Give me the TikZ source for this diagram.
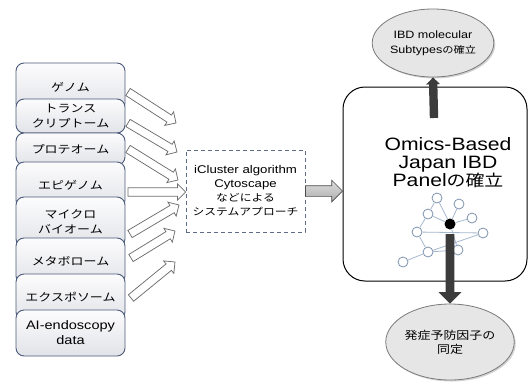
\documentclass[tikz,border=0pt]{standalone}
\usepackage{fontspec}
\setmainfont[FakeStretch=1.18, Scale=1.12]{Liberation Sans}
\newfontfamily\jp[FakeStretch=1.18]{Noto Sans CJK JP}
\usetikzlibrary{shapes.arrows,shapes.geometric,shadows,calc}
\definecolor{boxedge}{HTML}{4A5A78}
\definecolor{boxtop}{HTML}{FCFCFD}
\definecolor{boxbot}{HTML}{E2E3E8}
\definecolor{arrowedge}{HTML}{6E6E6E}
\definecolor{dashedge}{HTML}{5C6C84}
\definecolor{netedge}{HTML}{A6B8CF}
\definecolor{netnode}{HTML}{7F93AE}
\definecolor{darkarrow}{HTML}{3C3C3C}
\definecolor{ellfill}{HTML}{E6E6E6}
\definecolor{elledge}{HTML}{7A7A7A}
\tikzset{
  omicbox/.style={draw=boxedge, line width=0.9pt, rounded corners=8pt,
    top color=boxtop, bottom color=boxbot, minimum width=109pt, inner sep=0pt,
    align=center, font={\fontsize{11}{15}\selectfont\jp}},
  hollowarrow/.style={single arrow, draw=arrowedge, fill=white, line width=0.75pt,
    inner sep=3.8pt, minimum width=15.5pt, single arrow head extend=3.9pt, outer sep=0pt},
  grayarrow/.style={single arrow, draw=gray!60!black, top color=gray!25, bottom color=gray!65,
    line width=0.7pt, inner sep=5pt, minimum width=21pt, single arrow head extend=5.5pt, outer sep=0pt},
  darkup/.style={single arrow, fill=darkarrow, draw=none, inner sep=4pt,
    minimum width=13.5pt, single arrow head extend=2.75pt, outer sep=0pt},
  darkdown/.style={single arrow, fill=darkarrow, draw=none, inner sep=4.2pt,
    minimum width=22pt, single arrow head extend=7pt, outer sep=0pt},
  sysbox/.style={draw=dashedge, line width=0.9pt, dash pattern=on 4pt off 3pt,
    minimum width=119pt, minimum height=82pt, inner sep=0pt, align=center,
    font={\fontsize{10}{14}\selectfont}},
  panelbox/.style={draw=black, line width=1pt, rounded corners=22pt, fill=white,
    minimum width=184pt, minimum height=194pt, inner sep=0pt},
  paneltext/.style={align=center, inner sep=0pt, font={\fontsize{16}{18}\selectfont}},
  resultell/.style={ellipse, draw=elledge, line width=0.8pt, fill=ellfill, inner sep=0pt,
    align=center, drop shadow={shadow xshift=1.5pt, shadow yshift=-1.5pt, opacity=0.35}},
  netnodestyle/.style={circle, draw=netnode, fill=white, line width=0.8pt,
    minimum size=10pt, inner sep=0pt},
  hubstyle/.style={circle, fill=black, minimum size=11pt, inner sep=0pt},
  netline/.style={draw=netedge, line width=0.8pt}
}
\newcommand\blockarrow[3][]{%
  \path let \p1=(#2), \p2=(#3), \n1={atan2(\y2-\y1,\x2-\x1)},
    \n2={veclen(\x2-\x1,\y2-\y1)} in
    node[#1, minimum height=\n2, rotate=\n1, anchor=tail] at (\p1) {};
}
\begin{document}
\begin{tikzpicture}[x=1pt,y=-1pt]
\useasboundingbox (0,0) rectangle (532,381);
% omics boxes
\node[omicbox, minimum height=48pt] (b1) at (70.5,87) {ゲノム};
\node[omicbox, minimum height=34pt] (b2) at (70.5,116) {トランス\\クリプトーム};
\node[omicbox, minimum height=32pt] (b3) at (70.5,149) {プロテオーム};
\node[omicbox, minimum height=46pt] (b4) at (70.5,185) {エピゲノム};
\node[omicbox, minimum height=50pt] (b5) at (70.5,222) {マイクロ\\バイオーム};
\node[omicbox, minimum height=46pt] (b6) at (70.5,261) {メタボローム};
\node[omicbox, minimum height=46pt] (b7) at (70.5,297) {エクスポソーム};
\node[omicbox, minimum height=46pt, font={\fontsize{11}{15}\selectfont}] (b8) at (70.5,333) {AI-endoscopy\\data};
% system approach box
\node[sysbox] (sys) at (245.5,191) {iCluster algorithm\\Cytoscape\\{\jp などによる}\\{\jp システムアプローチ}};
% arrow ends
\coordinate (a1s) at (128,92);  \coordinate (a1e) at (176,123);
\coordinate (a2s) at (128,123); \coordinate (a2e) at (177,152);
\coordinate (a3s) at (128,149); \coordinate (a3e) at (178,180);
\coordinate (a4s) at (128,192); \coordinate (a4e) at (sys.west |- a4s);
\coordinate (a5s) at (130,234); \coordinate (a5e) at (179,205);
\coordinate (a6s) at (131,258); \coordinate (a6e) at (175,231);
\coordinate (a7s) at (131,298); \coordinate (a7e) at (175,262);
\blockarrow[hollowarrow]{a1s}{a1e}
\blockarrow[hollowarrow]{a2s}{a2e}
\blockarrow[hollowarrow]{a3s}{a3e}
\blockarrow[hollowarrow]{a4s}{a4e}
\blockarrow[hollowarrow]{a5s}{a5e}
\blockarrow[hollowarrow]{a6s}{a6e}
\blockarrow[hollowarrow]{a7s}{a7e}
% panel
\node[panelbox] (panel) at (435,184) {};
\node[paneltext] (ptext) at (448,163) {Omics-Based\\Japan IBD\\Panel{\jp の確立}};
\coordinate (gs) at (sys.east);
\coordinate (ge) at (panel.west |- sys.east);
\blockarrow[grayarrow]{gs}{ge}
% network
\node[netnodestyle] (n1) at (437,198) {};
\node[netnodestyle] (n2) at (459,204) {};
\node[netnodestyle] (n3) at (428,214) {};
\node[netnodestyle] (n4) at (472,218) {};
\node[hubstyle] (hub) at (450,224) {};
\node[netnodestyle] (n5) at (417,232) {};
\node[netnodestyle] (n6) at (483,233) {};
\node[netnodestyle] (n7) at (428,252) {};
\node[netnodestyle] (n8) at (458,250) {};
\node[netnodestyle] (n9) at (403,262) {};
\path[netline] (n1) -- (hub) (n2) -- (hub) (n3) -- (hub) (n4) -- (hub)
  (n1) -- (n3) (n5) -- (n3) (n5) -- (n6) (n7) -- (n5) (n7) -- (n6)
  (n9) -- (n7) (n8) -- (hub) (n7) -- (n8);
% result ellipses
\node[resultell, minimum width=120pt, minimum height=68pt,
  font={\fontsize{9.5}{15}\selectfont}] (sub) at (433,43) {IBD molecular\\Subtypes{\jp の確立}};
\node[resultell, minimum width=126pt, minimum height=76pt,
  font={\fontsize{11}{14}\selectfont\jp}] (pre) at (450,342) {発症予防因子の\\同定};
% dark arrows
\coordinate (upstart) at (434,118);
\blockarrow[darkup]{upstart}{sub.south}
\coordinate (downstart) at (450,234);
\blockarrow[darkdown]{downstart}{pre.north}
\end{tikzpicture}
\end{document}
